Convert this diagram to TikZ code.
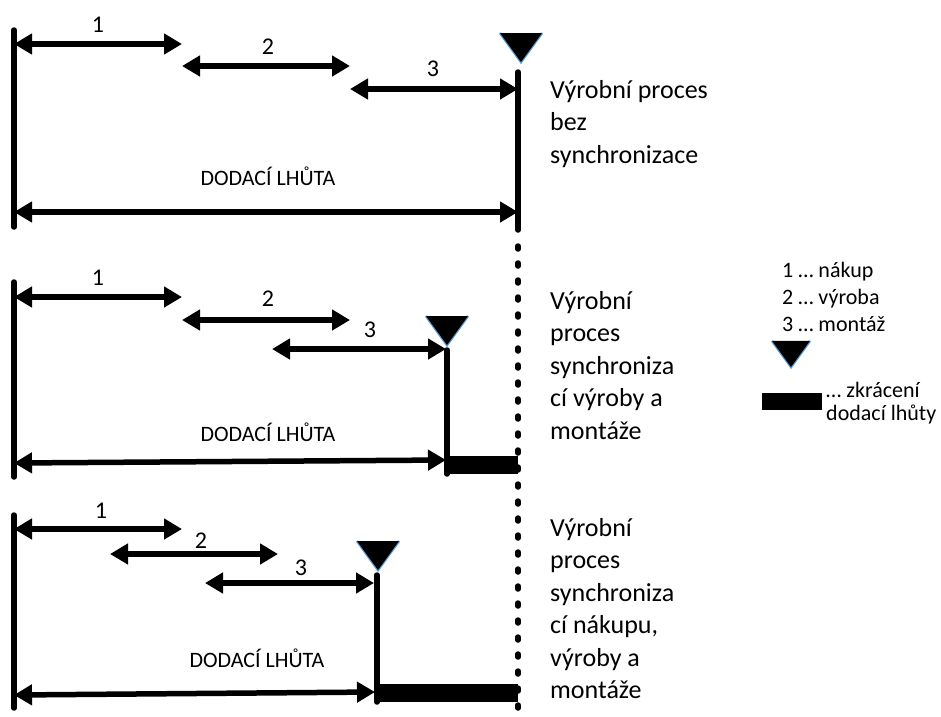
\documentclass[tikz,border=0pt]{standalone}
\usepackage{fontspec}
\setmainfont{Carlito}
\usetikzlibrary{arrows.meta}
\definecolor{okraj}{RGB}{91,155,213}
\tikzset{
  sipka/.style={line width=5.5pt,{Triangle[length=18pt,width=20pt]}-{Triangle[length=18pt,width=20pt]}},
  hrana/.style={line width=5.5pt,line cap=round},
  zkraceni/.style={line width=18pt},
  cislo/.style={anchor=base,inner sep=0pt,font=\fontsize{24}{28}\selectfont},
  lhuta/.style={font=\fontsize{22}{26}\selectfont},
  popis/.style={anchor=north west,inner sep=0pt,align=left,font=\fontsize{26}{32.5}\selectfont},
  legenda/.style={anchor=base west,inner sep=0pt,align=left,font=\fontsize{22}{23}\selectfont},
  milnik/.pic={
    \draw[okraj,line width=2.5pt] (-21,-29) -- (0,0) -- (21,-29);
    \fill (-21,-29) -- (21,-29) -- (0,0) -- cycle;
  }
}
\begin{document}
\begin{tikzpicture}[x=1pt,y=-1pt]
\useasboundingbox (0,0) rectangle (941,716);
% prubeh bez synchronizace
\coordinate (a0) at (14,30);
\coordinate (a1) at (14,227);
\coordinate (k0) at (518,72);
\coordinate (k1) at (518,230);
\draw[hrana] (a0) -- (a1);
\draw[hrana] (k0) -- (k1);
\draw[sipka] (14,44) -- (182,44);
\draw[sipka] (182,66) -- (350,66);
\draw[sipka] (350,89) -- (518,89);
\node[cislo] (c1) at (98,32) {1};
\node[cislo] (c2) at (268,54) {2};
\node[cislo] (c3) at (433,76) {3};
\pic at (521,62) {milnik};
\node[lhuta] (l1) at (268,176) {DODACÍ LHŮTA};
\draw[sipka] (14,212) -- (518,212);
\node[popis] (p1) at (550,80) {Výrobní proces\\bez\\synchronizace};
% tečkovaná čára
\draw[line width=5.5pt,line cap=round,dash pattern=on 3pt off 14pt] (k1) ++(0,16) -- (518,716);
% synchronizace vyroby a montaze
\draw[hrana] (14,282) -- (14,477);
\draw[sipka] (14,297) -- (182,297);
\draw[sipka] (182,320) -- (350,320);
\draw[sipka] (272,349) -- (446,349);
\node[cislo] (d1) at (98,285) {1};
\node[cislo] (d2) at (268,306) {2};
\node[cislo] (d3) at (370,337) {3};
\pic at (447,345) {milnik};
\draw[hrana] (447,350) -- (447,474);
\draw[zkraceni] (447,465) -- (518,465);
\node[lhuta] (l2) at (268,432) {DODACÍ LHŮTA};
\draw[sipka] (14,463) -- (446,460);
\node[popis] (p2) at (550,291) {Výrobní\\proces\\synchroniza\\cí výroby a\\montáže};
% synchronizace nakupu, vyroby a montaze
\draw[hrana] (14,515) -- (14,708);
\draw[sipka] (14,529) -- (182,529);
\draw[sipka] (110,554) -- (278,554);
\draw[sipka] (205,583) -- (374,583);
\node[cislo] (e1) at (101,518) {1};
\node[cislo] (e2) at (201,548) {2};
\node[cislo] (e3) at (301,575) {3};
\pic at (378,570) {milnik};
\draw[hrana] (377,575) -- (377,702);
\draw[zkraceni] (377,693) -- (518,693);
\node[lhuta] (l3) at (257,658) {DODACÍ LHŮTA};
\draw[sipka] (14,695) -- (375,692);
\node[popis] (p3) at (550,518) {Výrobní\\proces\\synchroniza\\cí nákupu,\\výroby a\\montáže};
% legenda
\node[legenda] (g1) at (782,277) {1 … nákup};
\node[legenda] (g2) at (782,304) {2 … výroba};
\node[legenda] (g3) at (782,331) {3 … montáž};
\pic[scale=0.9] at (791,367) {milnik};
\fill (762,393) rectangle (822,410);
\node[legenda] (g4) at (826,397) {… zkrácení};
\node[legenda] (g5) at (826,420) {dodací lhůty};
\end{tikzpicture}
\end{document}
